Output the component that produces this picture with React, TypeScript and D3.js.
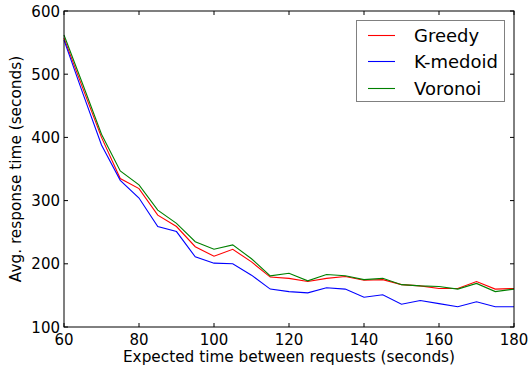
import React from "react";
import * as d3 from "d3";

const xValues = [60, 65, 70, 75, 80, 85, 90, 95, 100, 105, 110, 115, 120, 125, 130, 135, 140, 145, 150, 155, 160, 165, 170, 175, 180];
const greedy = [557, 478, 400, 335, 319, 277, 259, 227, 212, 223, 203, 179, 177, 172, 177, 180, 174, 175, 167, 165, 161, 161, 172, 160, 161];
const kmedoid = [554, 470, 388, 332, 304, 259, 251, 211, 201, 200, 182, 160, 156, 154, 162, 160, 147, 151, 136, 142, 137, 132, 140, 132, 132];
const voronoi = [562, 484, 405, 347, 325, 285, 264, 235, 223, 230, 208, 181, 185, 173, 183, 181, 175, 177, 167, 165, 164, 160, 169, 156, 160];
const xTicks = [60, 80, 100, 120, 140, 160, 180];
const yTicks = [100, 200, 300, 400, 500, 600];
const seriesNames = ["Greedy", "K-medoid", "Voronoi"];
const seriesColors = ["#ff0000", "#0000ff", "#008000"];

export default function App() {
  const W = 528, H = 369;
  const L = 64, R = 514, T = 11, B = 327;
  const x = d3.scaleLinear().domain([60, 180]).range([L, R]);
  const y = d3.scaleLinear().domain([100, 600]).range([B, T]);
  const series = [greedy, kmedoid, voronoi];
  const line = d3.line<number>().x((_, i) => x(xValues[i])).y((d) => y(d));
  const font = "DejaVu Sans, sans-serif";
  const tl = 4;
  const legY = [35.5, 61.5, 88.5];
  return (
    <svg width={W} height={H} style={{ position: "absolute", left: 0, top: 0 }} fontFamily={font}>
      <rect x={0} y={0} width={W} height={H} fill="#fff" />
      {series.map((s, i) => (
        <path key={i} d={line(s) || ""} fill="none" stroke={seriesColors[i]} strokeWidth={1.1} />
      ))}
      <rect x={L} y={T} width={R - L} height={B - T} fill="none" stroke="#000" strokeWidth={1} />
      {xTicks.map((t) => (
        <g key={"x" + t}>
          <line x1={x(t)} x2={x(t)} y1={B} y2={B - tl} stroke="#000" />
          <line x1={x(t)} x2={x(t)} y1={T} y2={T + tl} stroke="#000" />
          <text x={x(t)} y={B + 18} fontSize={15} textAnchor="middle" fill="#000">{t}</text>
        </g>
      ))}
      {yTicks.map((t) => (
        <g key={"y" + t}>
          <line x1={L} x2={L + tl} y1={y(t)} y2={y(t)} stroke="#000" />
          <line x1={R} x2={R - tl} y1={y(t)} y2={y(t)} stroke="#000" />
          <text x={L - 4} y={y(t) + 5.5} fontSize={15} textAnchor="end" fill="#000">{t}</text>
        </g>
      ))}
      <text x={(L + R) / 2} y={362} fontSize={15.3} textAnchor="middle" fill="#000">Expected time between requests (seconds)</text>
      <text transform={`translate(21,${(T + B) / 2}) rotate(-90)`} fontSize={15.3} textAnchor="middle" fill="#000">Avg. response time (seconds)</text>
      <rect x={356.5} y={20.5} width={148} height={81} fill="#fff" stroke="#808080" strokeWidth={1} />
      {seriesNames.map((n, i) => (
        <g key={n}>
          <line x1={368} x2={395} y1={legY[i]} y2={legY[i]} stroke={seriesColors[i]} strokeWidth={1.1} />
          <text x={414} y={legY[i] + 6.5} fontSize={18} fill="#000">{n}</text>
        </g>
      ))}
    </svg>
  );
}
